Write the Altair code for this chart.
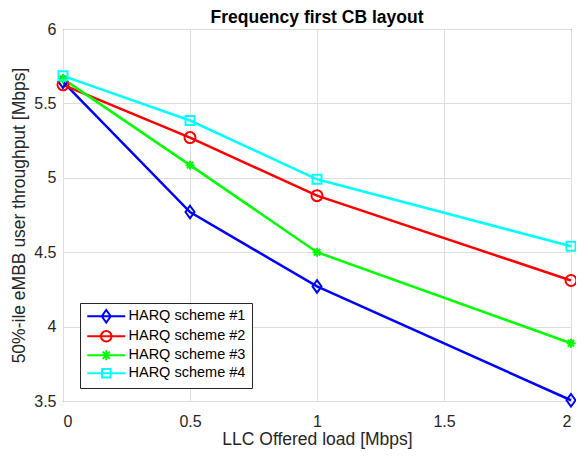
import altair as alt
import pandas as pd

loads = [0, 0.5, 1, 2]
series_names = ["HARQ scheme #1", "HARQ scheme #2", "HARQ scheme #3", "HARQ scheme #4"]
scheme1 = [5.645, 4.77, 4.27, 3.505]
scheme2 = [5.625, 5.27, 4.88, 4.31]
scheme3 = [5.665, 5.085, 4.50, 3.888]
scheme4 = [5.685, 5.385, 4.99, 4.54]
colors = ["#0000ff", "#ff0000", "#00ff00", "#00ffff"]
x_ticks = [0, 0.5, 1, 1.5, 2]
y_ticks = [3.5, 4, 4.5, 5, 5.5, 6]

rows = []
for name, vals in zip(series_names, [scheme1, scheme2, scheme3, scheme4]):
    for x, y in zip(loads, vals):
        rows.append({"series": name, "load": x, "thr": y})
df = pd.DataFrame(rows)

FONT = "Liberation Sans"
AXC = "#262626"

diamond = "M0,-1.25L0.9,0L0,1.25L-0.9,0Z"
asterisk = "M-1,0H1M0,-1V1M-0.72,-0.72L0.72,0.72M-0.72,0.72L0.72,-0.72"
marker_shapes = [diamond, "circle", asterisk, "square"]
marker_sizes = [100, 121, 81, 81]

line_seg = "M-3.8,0H3.8"
circle_path = "M1.05,0A1.05,1.05,0,1,1,-1.05,0A1.05,1.05,0,1,1,1.05,0Z"
square_path = "M-0.85,-0.85H0.85V0.85H-0.85Z"
legend_paths = [line_seg + diamond, line_seg + circle_path, line_seg + asterisk, line_seg + square_path]

x_enc = alt.X(
    "load:Q",
    scale=alt.Scale(domain=[0, 2], nice=False),
    axis=alt.Axis(values=x_ticks, title="LLC Offered load [Mbps]", format="~g",
                  labelPadding=12, titleY=43, titleBaseline="alphabetic"),
)
y_enc = alt.Y(
    "thr:Q",
    scale=alt.Scale(domain=[3.5, 6], nice=False),
    axis=alt.Axis(values=y_ticks, title="50%-ile eMBB user throughput [Mbps]", format="~g",
                  labelPadding=7, titlePadding=5),
)

legend = alt.Legend(
    title=None, orient="none", legendX=17, legendY=274,
    fillColor="white", strokeColor=AXC, padding=6, cornerRadius=0,
    labelFont=FONT, labelFontSize=14.5, labelColor="black",
    symbolSize=100, symbolStrokeWidth=2, symbolOffset=13, labelOffset=15,
    rowPadding=0,
)
color_scale = alt.Scale(domain=series_names, range=colors)
color_enc = alt.Color("series:N", scale=color_scale, legend=legend)

lines = alt.Chart(df).mark_line(strokeWidth=2.5, clip=False).encode(
    x=x_enc, y=y_enc, color=color_enc,
)

layers = [lines]
for name, shp, sz in zip(series_names, marker_shapes, marker_sizes):
    layers.append(
        alt.Chart(df).transform_filter(alt.datum.series == name)
        .mark_point(shape=shp, size=sz, filled=False, strokeWidth=2, opacity=1, clip=False)
        .encode(x=x_enc, y=y_enc, color=color_enc)
    )

legend_layer = alt.Chart(df).transform_filter("false").mark_point(filled=False, strokeWidth=2, opacity=1).encode(
    x=x_enc, y=y_enc, color=color_enc,
    shape=alt.Shape("series:N", scale=alt.Scale(domain=series_names, range=legend_paths), legend=legend),
)
layers.append(legend_layer)

chart = alt.layer(*layers).properties(
    width=508, height=372,
    title=alt.TitleParams("Frequency first CB layout", font=FONT, fontSize=17.5, fontWeight="bold",
                          color="black", anchor="middle", offset=-5, frame="group"),
    autosize=alt.AutoSizeParams(type="none"),
    padding={"left": 55, "top": 21, "right": 5, "bottom": 48},
).configure_view(
    stroke=AXC, strokeWidth=1
).configure_axis(
    domain=False, ticks=False, grid=True, gridColor="#dedede", gridWidth=1,
    labelFont=FONT, labelFontSize=16, labelColor=AXC,
    titleFont=FONT, titleFontSize=17.5, titleColor=AXC, titleFontWeight="normal",
)

chart.save("out.html", embed_options={"renderer": "svg", "actions": False})
